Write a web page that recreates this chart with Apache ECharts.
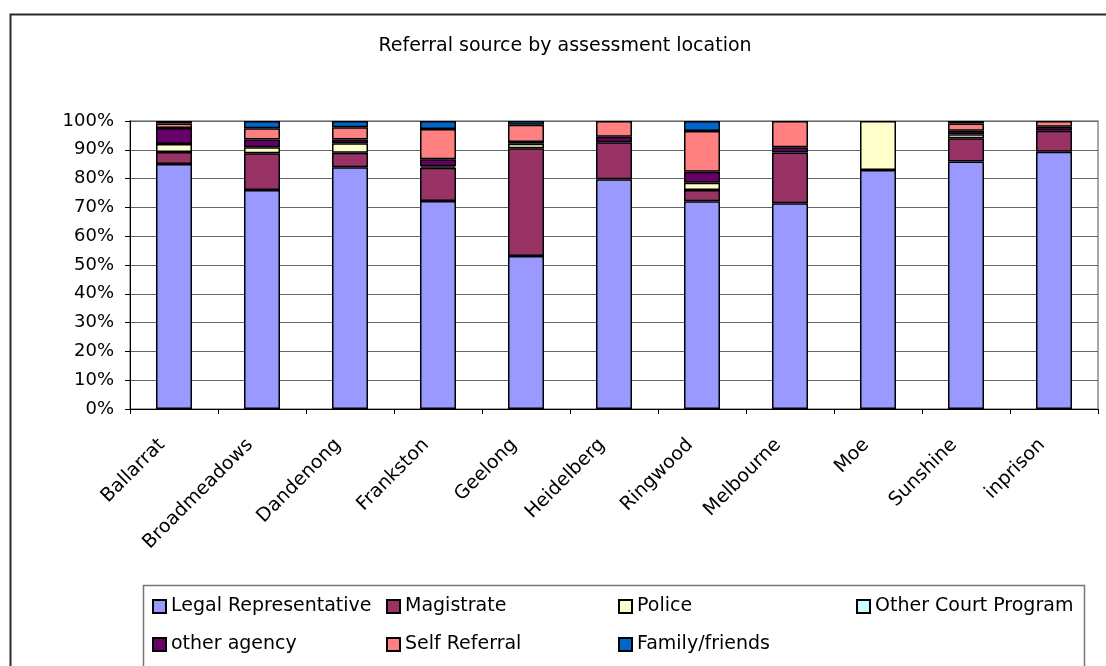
<!DOCTYPE html>
<html>
<head>
<meta charset="utf-8">
<title>Referral source by assessment location</title>
<script src="https://cdn.jsdelivr.net/npm/echarts@6/dist/echarts.min.js"></script>
<style>
  html, body { margin: 0; padding: 0; background: #fff; }
  #chart { width: 1106px; height: 666px; }
</style>
</head>
<body>
<div id="chart"></div>
<script>
// Assessment locations
const locations = ['Ballarrat', 'Broadmeadows', 'Dandenong', 'Frankston', 'Geelong',
  'Heidelberg', 'Ringwood', 'Melbourne', 'Moe', 'Sunshine', 'inprison'];

// Share of referrals (%) per source, one entry per location
const legalRepresentative = [85.1, 76.0, 83.9, 72.2, 53.1, 79.8, 72.1, 71.4, 83.0, 85.9, 89.3];
const magistrate          = [4.1, 12.8, 5.1, 11.6, 37.4, 12.8, 3.9, 17.7, 0, 8.1, 7.3];
const police              = [2.8, 2.1, 3.3, 0.5, 1.6, 0, 2.6, 0, 17.0, 1.4, 0];
const otherCourtProgram   = [0, 0, 0, 0, 0, 0, 0, 0, 0, 0, 0];
const otherAgency         = [5.6, 2.7, 1.3, 2.4, 0.6, 1.9, 3.8, 1.8, 0, 1.2, 1.4];
const selfReferral        = [1.5, 3.9, 4.2, 10.5, 6.0, 5.5, 14.1, 9.1, 0, 2.5, 2.0];
const familyFriends       = [0.9, 2.5, 2.2, 2.8, 1.3, 0, 3.5, 0, 0, 0.9, 0];

// Y axis tick labels
const yTicks = [0, 10, 20, 30, 40, 50, 60, 70, 80, 90, 100];

const seriesDefs = [
  { name: 'Legal Representative', data: legalRepresentative, color: '#9999FF' },
  { name: 'Magistrate',           data: magistrate,          color: '#993366' },
  { name: 'Police',               data: police,              color: '#FFFFCC' },
  { name: 'Other Court Program',  data: otherCourtProgram,   color: '#CCFFFF' },
  { name: 'other agency',         data: otherAgency,         color: '#660066' },
  { name: 'Self Referral',        data: selfReferral,        color: '#FF8080' },
  { name: 'Family/friends',       data: familyFriends,       color: '#0066CC' }
];

const FONT = 'DejaVu Sans';

// Legend laid out as a 4-column grid inside a framed box
const legendSlots = [
  [152, 597], [386, 597], [618, 597], [856, 597],
  [152, 635], [386, 635], [618, 635]
];
const legends = seriesDefs.map((s, i) => ({
  data: [s.name],
  left: legendSlots[i][0],
  top: legendSlots[i][1],
  padding: 0,
  itemWidth: 13,
  itemHeight: 13,
  itemGap: 0,
  icon: 'rect',
  selectedMode: false,
  textStyle: { fontFamily: FONT, fontSize: 19, color: '#000' }
}));

const chart = echarts.init(document.getElementById('chart'), null, { renderer: 'canvas' });

chart.setOption({
  animation: false,
  backgroundColor: '#fff',
  title: {
    text: 'Referral source by assessment location',
    left: 565,
    top: 37,
    padding: 0,
    textAlign: 'center',
    textStyle: { fontFamily: FONT, fontSize: 19, fontWeight: 'normal', color: '#000' }
  },
  legend: legends,
  graphic: [
    {
      type: 'rect',
      silent: true,
      z: -1,
      shape: { x: 10.5, y: 14.5, width: 1200, height: 800 },
      style: { fill: 'none', stroke: '#2a2a2a', lineWidth: 2 }
    },
    {
      type: 'rect',
      silent: true,
      z: -1,
      shape: { x: 143.5, y: 585.5, width: 941, height: 200 },
      style: { fill: 'none', stroke: '#777', lineWidth: 1.5 }
    }
  ],
  grid: {
    left: 130,
    right: 8,
    top: 121,
    bottom: 257,
    show: true,
    borderColor: '#8a8a8a',
    borderWidth: 1.5,
    backgroundColor: '#fff'
  },
  xAxis: {
    type: 'category',
    data: locations,
    axisLine: { lineStyle: { color: '#000', width: 1 } },
    axisTick: { show: true, length: 5, interval: 0, lineStyle: { color: '#000' } },
    axisLabel: {
      interval: 0,
      rotate: 45,
      margin: 21,
      padding: [0, 17, 0, 0],
      fontFamily: FONT,
      fontSize: 19,
      color: '#000'
    }
  },
  yAxis: {
    type: 'value',
    min: yTicks[0],
    max: yTicks[yTicks.length - 1],
    interval: yTicks[1] - yTicks[0],
    axisLine: { show: true, lineStyle: { color: '#000', width: 1 } },
    axisTick: { show: true, length: 5, lineStyle: { color: '#000' } },
    axisLabel: {
      margin: 16,
      fontFamily: FONT,
      fontSize: 18,
      color: '#000',
      formatter: '{value}%'
    },
    splitLine: { show: true, lineStyle: { color: '#666', width: 1 } }
  },
  series: seriesDefs.map(s => ({
    name: s.name,
    type: 'bar',
    stack: 'share',
    barWidth: 36,
    // empty segments are left out so they draw no outline
    data: s.data.map(v => (v === 0 ? null : v)),
    itemStyle: { color: s.color, borderColor: '#000', borderWidth: 1.5 }
  }))
});
</script>
</body>
</html>
